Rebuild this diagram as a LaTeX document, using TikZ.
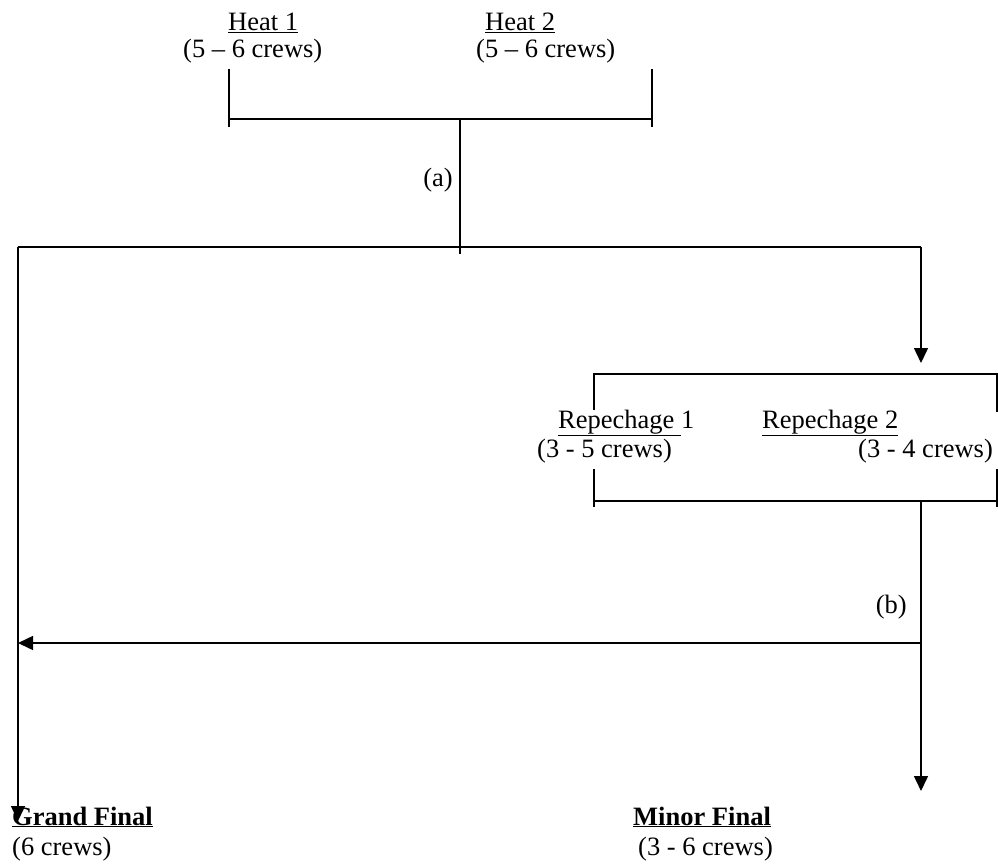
\documentclass[tikz,border=0pt]{standalone}
\usepackage{fontspec}
\setmainfont{Liberation Serif}
\usetikzlibrary{arrows.meta}
\newcommand{\rfont}{\fontsize{26.5}{32}\selectfont}
\tikzset{
  rline/.style ={line width=1.5pt, black},
  rarrow/.style={rline, -{Triangle[length=15pt,width=14pt]}},
  rlabel/.style={inner sep=0pt, anchor=base west, font=\rfont},
  rbold/.style ={rlabel, font=\rfont\bfseries},
}
\begin{document}
\begin{tikzpicture}[x=1pt, y=-1pt]
\useasboundingbox (0,0) rectangle (998,864);
% heats
\node[rlabel] (heatA)  at (228,31) {\underline{Heat 1}};
\node[rlabel] (heatAc) at (183,58) {(5 \textendash{} 6 crews)};
\node[rlabel] (heatB)  at (485,31) {\underline{Heat 2}};
\node[rlabel] (heatBc) at (476,58) {(5 \textendash{} 6 crews)};
\coordinate (hl) at (229,119);
\coordinate (hr) at (652,119);
\coordinate (hm) at (460,119);
\draw[rline] (229,69) -- (229,127);
\draw[rline] (652,69) -- (652,127);
\draw[rline] (hl) -- (hr);
\draw[rline] (hm) -- (460,254);
\node[rlabel, anchor=base east] (la) at (453,186) {(a)};
% split to grand final and repechage
\coordinate (gl) at (18,247);
\coordinate (gr) at (921,247);
\coordinate (rtop) at (921,363);
\coordinate (gfin) at (18,821);
\draw[rline] (gl) -- (gr);
\draw[rarrow] (gr) -- (rtop);
\draw[rarrow] (gl) -- (gfin);
% repechage box
\draw[rline] (594,410) -- (594,374) -- (997,374) -- (997,412);
\draw[rline] (594,469) -- (594,507);
\draw[rline] (997,469) -- (997,507);
\draw[rline] (594,501) -- (997,501);
\node[rlabel] (repA)  at (558,428) {\underline{Repechage\ }1};
\node[rlabel] (repAc) at (537,457) {(3 - 5 crews)};
\node[rlabel] (repB)  at (762,428) {\underline{Repechage 2}};
\node[rlabel] (repBc) at (858,457) {(3 - 4 crews)};
% repechage outputs
\coordinate (rb) at (921,501);
\coordinate (rj) at (921,643);
\coordinate (gj) at (18,643);
\coordinate (mfin) at (921,791);
\draw[rarrow] (rb) -- (mfin);
\draw[rarrow] (rj) -- (gj);
\node[rlabel, anchor=base east] (lb) at (907,613) {(b)};
% finals
\node[rbold] (gf)  at (12,825) {\underline{Grand Final}};
\node[rlabel] (gfc) at (12,855) {(6 crews)};
\node[rbold] (mf)  at (633,825) {\underline{Minor Final}};
\node[rlabel] (mfc) at (638,855) {(3 - 6 crews)};
\end{tikzpicture}
\end{document}
